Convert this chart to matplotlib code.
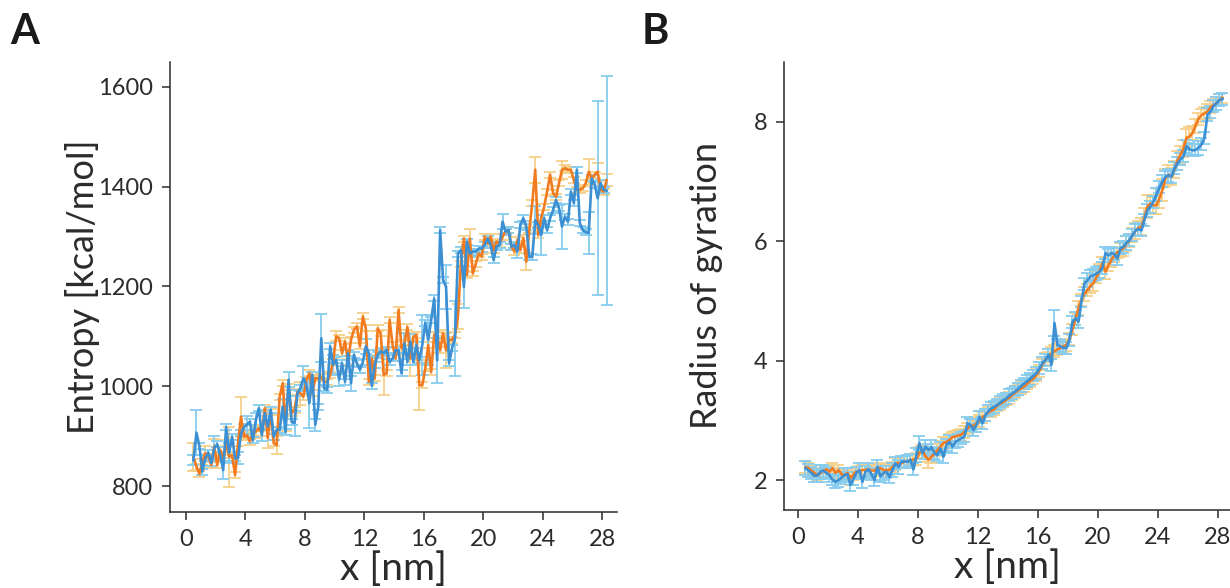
import numpy as np
import matplotlib
matplotlib.use("Agg")
import matplotlib.pyplot as plt

plt.rcParams['font.family'] = ['Lato', 'DejaVu Sans']

# sampling positions along the path [nm]
x_nm = np.round(np.arange(0.5, 28.31, 0.2), 1)

# ---- panel A: entropy [kcal/mol] ----
entropy_run1 = [
    859, 839, 824, 849, 866, 859, 842, 879, 842, 872,
    856, 886, 859, 862, 822, 886, 939, 899, 902, 889,
    906, 909, 916, 906, 956, 896, 949, 886, 882, 979,
    1006, 926, 999, 946, 953, 989, 986, 979, 1013, 1026,
    986, 1016, 1016, 1019, 1009, 1009, 1023, 1049, 1100, 1096,
    1066, 1090, 1049, 1093, 1113, 1120, 1080, 1140, 1116, 1009,
    1056, 1016, 1116, 1106, 1023, 1026, 1133, 1083, 1056, 1153,
    1076, 1086, 1119, 1056, 1099, 1103, 1002, 1002, 1036, 1083,
    1029, 1103, 1103, 1072, 1106, 1072, 1093, 1093, 1103, 1139,
    1246, 1296, 1223, 1296, 1226, 1246, 1266, 1260, 1300, 1286,
    1300, 1273, 1290, 1286, 1300, 1310, 1313, 1280, 1270, 1293,
    1273, 1297, 1250, 1313, 1367, 1434, 1303, 1337, 1360, 1390,
    1424, 1387, 1380, 1407, 1434, 1437, 1434, 1434, 1413, 1394,
    1394, 1397, 1407, 1430, 1417, 1424, 1430, 1394, 1390, 1413,
]
entropy_run1_err = [
    28, 6, 6, 6, 15, 6, 6, 15, 6, 6,
    6, 6, 60, 6, 6, 6, 40, 6, 6, 6,
    6, 12, 6, 6, 6, 20, 6, 6, 18, 6,
    6, 15, 6, 6, 6, 6, 23, 6, 6, 6,
    6, 6, 6, 6, 6, 6, 6, 6, 10, 6,
    6, 6, 6, 6, 6, 6, 6, 6, 6, 6,
    6, 6, 6, 6, 40, 6, 6, 6, 6, 6,
    6, 6, 6, 35, 6, 6, 50, 6, 6, 6,
    6, 6, 6, 6, 6, 35, 6, 6, 6, 25,
    6, 6, 6, 20, 6, 6, 6, 6, 6, 6,
    6, 6, 6, 6, 6, 6, 6, 6, 6, 6,
    6, 6, 17, 6, 6, 26, 6, 6, 6, 6,
    6, 6, 6, 6, 18, 6, 6, 6, 6, 6,
    6, 6, 6, 26, 6, 6, 18, 6, 6, 12,
]
entropy_run2 = [
    852, 907, 880, 829, 856, 867, 846, 876, 884, 862,
    832, 918, 866, 899, 856, 856, 906, 918, 923, 929,
    892, 932, 956, 902, 946, 919, 953, 899, 913, 913,
    959, 909, 1013, 929, 926, 986, 996, 1016, 1003, 966,
    1023, 923, 959, 1096, 996, 993, 1080, 1043, 1053, 1013,
    1046, 1009, 1066, 1006, 1063, 1046, 1033, 1049, 1080, 1066,
    1001, 1043, 1063, 1070, 1066, 1073, 1049, 1056, 1072, 1072,
    1026, 1086, 1049, 1089, 1049, 1083, 1052, 1083, 1127, 1093,
    1133, 1176, 1052, 1313, 1213, 1199, 1046, 1076, 1096, 1266,
    1273, 1199, 1290, 1266, 1270, 1270, 1276, 1276, 1283, 1296,
    1283, 1253, 1280, 1283, 1330, 1310, 1313, 1280, 1283, 1270,
    1323, 1337, 1320, 1260, 1259, 1333, 1323, 1303, 1337, 1313,
    1337, 1353, 1373, 1357, 1320, 1340, 1330, 1390, 1367, 1434,
    1327, 1313, 1309, 1307, 1417, 1404, 1377, 1407, 1394, 1392,
]
entropy_run2_err = [
    10, 45, 6, 6, 6, 6, 6, 25, 6, 6,
    18, 6, 20, 6, 6, 12, 6, 6, 18, 6,
    6, 15, 6, 12, 6, 6, 6, 6, 6, 6,
    15, 6, 15, 6, 25, 6, 6, 25, 6, 50,
    6, 12, 6, 48, 6, 6, 6, 20, 6, 12,
    6, 6, 6, 15, 6, 6, 6, 6, 15, 6,
    6, 6, 6, 6, 6, 6, 6, 6, 6, 6,
    6, 20, 6, 15, 6, 6, 6, 60, 6, 50,
    6, 6, 45, 6, 6, 45, 6, 6, 75, 6,
    6, 42, 6, 6, 6, 6, 6, 6, 6, 6,
    6, 6, 6, 6, 15, 6, 6, 6, 6, 12,
    6, 6, 6, 6, 6, 28, 6, 40, 6, 6,
    6, 6, 6, 6, 45, 6, 6, 6, 6, 6,
    6, 6, 6, 42, 6, 6, 195, 6, 6, 230,
]

# ---- panel B: radius of gyration ----
rg_run1 = [
    2.22, 2.20, 2.16, 2.12, 2.08, 2.12, 2.16, 2.18, 2.14, 2.20,
    2.12, 2.17, 2.10, 2.08, 2.12, 2.03, 2.10, 2.14, 2.14, 2.17,
    2.17, 2.18, 2.16, 2.16, 2.20, 2.20, 2.17, 2.17, 2.17, 2.22,
    2.27, 2.29, 2.28, 2.31, 2.31, 2.34, 2.34, 2.36, 2.46, 2.50,
    2.40, 2.34, 2.39, 2.45, 2.50, 2.56, 2.62, 2.64, 2.67, 2.72,
    2.73, 2.75, 2.76, 2.81, 2.86, 2.92, 2.90, 2.95, 2.99, 3.05,
    3.09, 3.14, 3.16, 3.19, 3.25, 3.28, 3.31, 3.35, 3.38, 3.43,
    3.47, 3.51, 3.54, 3.57, 3.62, 3.66, 3.70, 3.76, 3.83, 3.94,
    4.02, 4.06, 4.12, 4.16, 4.19, 4.21, 4.24, 4.26, 4.36, 4.52,
    4.70, 4.88, 5.02, 5.12, 5.18, 5.25, 5.30, 5.40, 5.50, 5.63,
    5.49, 5.60, 5.69, 5.77, 5.81, 5.85, 5.88, 5.96, 6.01, 6.10,
    6.17, 6.22, 6.24, 6.40, 6.58, 6.63, 6.60, 6.60, 6.72, 6.86,
    7.06, 7.11, 7.08, 7.20, 7.35, 7.45, 7.55, 7.73, 7.75, 7.81,
    7.93, 8.05, 8.11, 8.14, 8.17, 8.24, 8.28, 8.31, 8.36, 8.40,
]
rg_run1_err = [
    0.10, 0.09, 0.08, 0.09, 0.08, 0.09, 0.10, 0.08, 0.09, 0.08,
    0.09, 0.08, 0.10, 0.09, 0.08, 0.12, 0.09, 0.08, 0.10, 0.09,
    0.08, 0.09, 0.10, 0.08, 0.09, 0.08, 0.10, 0.09, 0.08, 0.09,
    0.10, 0.09, 0.08, 0.09, 0.10, 0.08, 0.09, 0.10, 0.09, 0.08,
    0.09, 0.14, 0.10, 0.09, 0.10, 0.09, 0.10, 0.09, 0.10, 0.09,
    0.10, 0.09, 0.10, 0.10, 0.09, 0.10, 0.09, 0.10, 0.10, 0.09,
    0.10, 0.09, 0.10, 0.10, 0.09, 0.10, 0.09, 0.10, 0.10, 0.09,
    0.10, 0.09, 0.10, 0.10, 0.09, 0.10, 0.09, 0.10, 0.10, 0.09,
    0.10, 0.09, 0.10, 0.10, 0.09, 0.10, 0.09, 0.10, 0.10, 0.09,
    0.10, 0.12, 0.10, 0.12, 0.10, 0.12, 0.13, 0.10, 0.12, 0.10,
    0.12, 0.10, 0.13, 0.12, 0.10, 0.12, 0.13, 0.12, 0.10, 0.12,
    0.13, 0.12, 0.14, 0.15, 0.20, 0.15, 0.14, 0.15, 0.16, 0.18,
    0.15, 0.16, 0.14, 0.15, 0.16, 0.15, 0.14, 0.15, 0.16, 0.12,
    0.12, 0.10, 0.11, 0.10, 0.12, 0.10, 0.10, 0.11, 0.10, 0.08,
]
rg_run2 = [
    2.20, 2.16, 2.12, 2.07, 2.08, 2.14, 2.16, 2.12, 2.08, 2.01,
    1.97, 2.00, 2.04, 2.08, 2.10, 1.92, 2.02, 2.12, 2.17, 1.97,
    2.14, 2.18, 2.10, 2.00, 2.22, 2.06, 2.12, 2.14, 2.05, 2.17,
    2.28, 2.22, 2.31, 2.31, 2.31, 2.34, 2.18, 2.42, 2.62, 2.45,
    2.56, 2.50, 2.55, 2.45, 2.42, 2.53, 2.39, 2.59, 2.64, 2.56,
    2.64, 2.67, 2.70, 2.73, 2.95, 2.92, 2.84, 2.92, 3.06, 2.95,
    3.09, 3.16, 3.20, 3.23, 3.26, 3.30, 3.34, 3.37, 3.42, 3.45,
    3.49, 3.53, 3.58, 3.62, 3.66, 3.70, 3.75, 3.79, 3.87, 3.96,
    4.01, 4.10, 3.93, 4.63, 4.26, 4.24, 4.21, 4.21, 4.35, 4.65,
    4.71, 4.65, 4.99, 5.29, 5.35, 5.41, 5.43, 5.46, 5.49, 5.55,
    5.80, 5.76, 5.80, 5.78, 5.71, 5.88, 5.91, 5.97, 6.02, 6.10,
    6.18, 6.20, 6.18, 6.36, 6.52, 6.58, 6.66, 6.78, 6.90, 7.00,
    7.08, 7.10, 7.08, 7.22, 7.30, 7.37, 7.42, 7.59, 7.54, 7.52,
    7.53, 7.56, 7.62, 7.73, 8.12, 8.17, 8.26, 8.31, 8.36, 8.38,
]
rg_run2_err = [
    0.12, 0.11, 0.10, 0.10, 0.11, 0.12, 0.10, 0.10, 0.11, 0.10,
    0.10, 0.11, 0.10, 0.12, 0.10, 0.10, 0.11, 0.10, 0.12, 0.10,
    0.10, 0.11, 0.10, 0.10, 0.12, 0.10, 0.11, 0.10, 0.10, 0.11,
    0.10, 0.12, 0.10, 0.10, 0.11, 0.10, 0.10, 0.11, 0.12, 0.10,
    0.11, 0.10, 0.12, 0.10, 0.10, 0.11, 0.10, 0.10, 0.11, 0.10,
    0.10, 0.11, 0.10, 0.10, 0.11, 0.10, 0.10, 0.11, 0.10, 0.10,
    0.10, 0.09, 0.10, 0.10, 0.09, 0.10, 0.10, 0.09, 0.10, 0.10,
    0.09, 0.10, 0.10, 0.09, 0.10, 0.10, 0.09, 0.10, 0.10, 0.10,
    0.10, 0.10, 0.10, 0.22, 0.10, 0.10, 0.10, 0.10, 0.10, 0.10,
    0.11, 0.10, 0.10, 0.10, 0.11, 0.10, 0.10, 0.11, 0.10, 0.10,
    0.10, 0.11, 0.10, 0.10, 0.11, 0.10, 0.10, 0.11, 0.10, 0.10,
    0.10, 0.11, 0.10, 0.10, 0.11, 0.10, 0.10, 0.11, 0.10, 0.10,
    0.10, 0.11, 0.10, 0.10, 0.11, 0.10, 0.10, 0.11, 0.10, 0.10,
    0.10, 0.11, 0.10, 0.10, 0.11, 0.10, 0.10, 0.11, 0.10, 0.10,
]

x_ticks = [0, 4, 8, 12, 16, 20, 24, 28]
entropy_ticks = [800, 1000, 1200, 1400, 1600]
rg_ticks = [2, 4, 6, 8]

ORANGE = '#f27b1f'
ORANGE_ERR = '#f6d08a'
BLUE = '#3b8fd2'
BLUE_ERR = '#87ccef'
INK = '#2b2b2b'

fig = plt.figure(figsize=(12.30, 5.88), dpi=100)
ax_a = fig.add_axes([0.1382, 0.1293, 0.3634, 0.7653])
ax_b = fig.add_axes([0.6374, 0.1327, 0.3626, 0.7619])


def draw_panel(ax, y1, e1, y2, e2, cap):
    ax.errorbar(x_nm, y1, yerr=e1, fmt='none', ecolor=ORANGE_ERR,
                elinewidth=1.3, capsize=cap, capthick=1.3, zorder=1)
    ax.errorbar(x_nm, y2, yerr=e2, fmt='none', ecolor=BLUE_ERR,
                elinewidth=1.3, capsize=cap, capthick=1.3, zorder=2)
    ax.plot(x_nm, y1, color=ORANGE, lw=1.9, zorder=3)
    ax.plot(x_nm, y2, color=BLUE, lw=1.9, zorder=4)
    for side in ('top', 'right'):
        ax.spines[side].set_visible(False)
    for side in ('left', 'bottom'):
        ax.spines[side].set_color(INK)
        ax.spines[side].set_linewidth(1.1)
    ax.tick_params(axis='both', direction='out', length=6, width=1.1,
                   color=INK, labelcolor=INK, labelsize=17, pad=6)
    ax.set_xticks(x_ticks)
    ax.set_xlabel('x [nm]', fontsize=28, color=INK, labelpad=1)


draw_panel(ax_a, entropy_run1, entropy_run1_err, entropy_run2, entropy_run2_err, 4)
ax_a.set_xlim(-1.08, 29.0)
ax_a.set_ylim(748, 1650)
ax_a.set_yticks(entropy_ticks)
ax_a.set_ylabel('Entropy [kcal/mol]', fontsize=26, color=INK, labelpad=-1)

draw_panel(ax_b, rg_run1, rg_run1_err, rg_run2, rg_run2_err, 4)
ax_b.set_xlim(-0.93, 28.8)
ax_b.set_ylim(1.5, 9.0)
ax_b.set_yticks(rg_ticks)
ax_b.set_ylabel('Radius of gyration', fontsize=26, color=INK, labelpad=22)

fig.text(0.008, 0.945, 'A', fontsize=30, fontweight='bold', color='#1a1a1a', va='center')
fig.text(0.522, 0.945, 'B', fontsize=30, fontweight='bold', color='#1a1a1a', va='center')

fig.savefig('out.png', dpi=100)
